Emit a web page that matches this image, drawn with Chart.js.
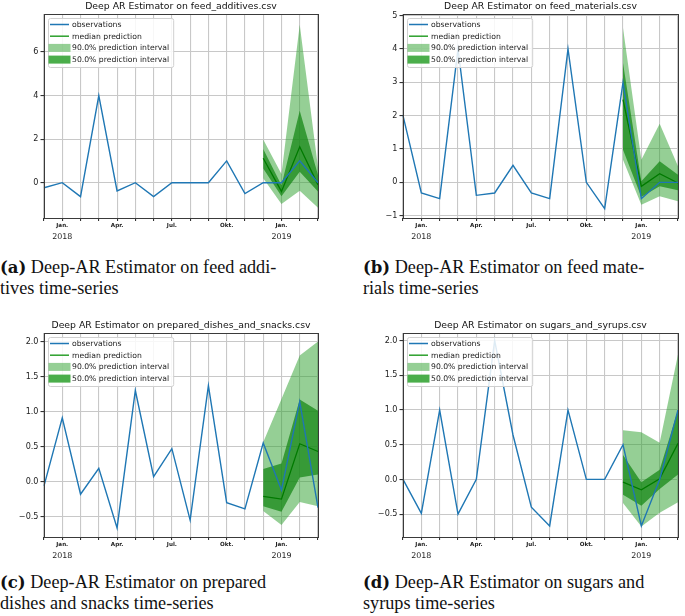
<!DOCTYPE html>
<html>
<head>
<meta charset="utf-8">
<script src="https://cdn.jsdelivr.net/npm/chart.js@4.4.1/dist/chart.umd.min.js"></script>
<style>
  body { margin: 0; background: #fff; width: 685px; height: 616px; position: relative; overflow: hidden; }
  canvas { position: absolute; }
  .cap { position: absolute; font-family: "Liberation Serif", serif; font-size: 18.2px; line-height: 21px; color: #111; white-space: nowrap; }
  .cap b { font-family: "DejaVu Serif", serif; font-size: 16.5px; }
</style>
</head>
<body>
<canvas id="chartA" width="340" height="242" style="left:0;top:0"></canvas>
<canvas id="chartB" width="345" height="242" style="left:340px;top:0"></canvas>
<canvas id="chartC" width="340" height="242" style="left:0;top:319px"></canvas>
<canvas id="chartD" width="345" height="242" style="left:340px;top:319px"></canvas>

<div class="cap" style="left:0;top:257px"><b>(a)</b> Deep-AR Estimator on feed addi-<br>tives time-series</div>
<div class="cap" style="left:363px;top:257px"><b>(b)</b> Deep-AR Estimator on feed mate-<br>rials time-series</div>
<div class="cap" style="left:0;top:572px"><b>(c)</b> Deep-AR Estimator on prepared<br>dishes and snacks time-series</div>
<div class="cap" style="left:363px;top:572px"><b>(d)</b> Deep-AR Estimator on sugars and<br>syrups time-series</div>

<script>
// Monate Dez. 2017 bis Mär. 2019 (nur Quartalsanfänge beschriftet)
const monthLabels = ["", "Jan.", "", "", "Apr.", "", "", "Jul.", "", "", "Okt.", "", "", "Jan.", "", ""];
const yearLabels = ["", "2018", "", "", "", "", "", "", "", "", "", "", "", "2019", "", ""];
const predStart = 12; // Vorhersage beginnt im Dez. 2018

// feed_additives
const additivesObs = [-0.23, 0, -0.64, 4, -0.38, 0, -0.64, 0, 0, 0, 1, -0.5, 0, 0, 1, 0];
const additivesMedian = [1.12, -0.4, 1.65, -0.1];
const additivesHigh90 = [1.98, 0.4, 7.25, 0.7];
const additivesLow90 = [0.2, -0.98, -0.37, -1.15];
const additivesHigh50 = [1.55, -0.12, 3.3, 0.35];
const additivesLow50 = [0.65, -0.62, 0.5, -0.4];
const additivesTicks = [0, 2, 4, 6];

// feed_materials
const materialsObs = [2, -0.32, -0.49, 4, -0.39, -0.32, 0.51, -0.32, -0.49, 4, 0, -0.79, 3, -0.49, 0, 0];
const materialsMedian = [2.48, -0.12, 0.26, -0.02];
const materialsHigh90 = [4.63, 0.68, 1.76, 0.48];
const materialsLow90 = [0.68, -0.67, -0.42, -0.57];
const materialsHigh50 = [3.58, 0.03, 0.63, 0.23];
const materialsLow50 = [0.98, -0.44, -0.12, -0.24];
const materialsTicks = [-1, 0, 1, 2, 3, 4, 5];

// prepared_dishes_and_snacks
const dishesObs = [-0.06, 0.91, -0.18, 0.19, -0.66, 1.3, 0.07, 0.47, -0.55, 1.37, -0.3, -0.39, 0.55, -0.12, 1.14, -0.37];
const dishesMedian = [-0.21, -0.25, 0.54, 0.43];
const dishesHigh90 = [0.56, 1.18, 1.8, 2.0];
const dishesLow90 = [-0.42, -0.62, -0.29, -0.35];
const dishesHigh50 = [0.18, 0.26, 1.17, 1.01];
const dishesLow50 = [-0.35, -0.43, 0.06, 0.1];
const dishesTicks = [-0.5, 0, 0.5, 1, 1.5, 2];

// sugars_and_syrups
const sugarsObs = [0, -0.49, 1, -0.5, 0, 2, 0.64, -0.4, -0.67, 1, 0, 0, 0.5, -0.67, 0, 1];
const sugarsMedian = [-0.04, -0.15, 0.01, 0.52];
const sugarsHigh90 = [0.71, 0.68, 0.53, 1.8];
const sugarsLow90 = [-0.34, -0.68, -0.48, -0.33];
const sugarsHigh50 = [0.35, -0.04, 0.14, 1.0];
const sugarsLow50 = [-0.22, -0.38, -0.14, 0.07];
const sugarsTicks = [-0.5, 0, 0.5, 1, 1.5, 2];

const blue = "#1f77b4";
const medianGreen = "#007a00";
const light90 = "rgba(44, 160, 44, 0.5)";
const dark50 = "rgba(20, 135, 20, 0.72)";
const gridColor = "#c8c8c8";
const baseFont = "'DejaVu Sans', sans-serif";

const pad = (pred) => Array(predStart).fill(null).concat(pred);

// Rahmen um die Zeichenfläche (wie matplotlib)
const spinePlugin = {
  id: "spines",
  afterDraw(chart) {
    const a = chart.chartArea;
    const ctx = chart.ctx;
    ctx.save();
    ctx.strokeStyle = "#3a3a3a";
    ctx.lineWidth = 1;
    ctx.strokeRect(Math.round(a.left) + 0.5, Math.round(a.top) + 0.5, Math.round(a.right - a.left), Math.round(a.bottom - a.top));
    ctx.restore();
  },
};

// Titel über der Mitte der Zeichenfläche
const titlePlugin = {
  id: "panelTitle",
  afterDraw(chart, args, opts) {
    const a = chart.chartArea;
    const ctx = chart.ctx;
    ctx.save();
    ctx.font = "9.3px " + baseFont;
    ctx.fillStyle = "#111";
    ctx.textAlign = "center";
    ctx.textBaseline = "middle";
    ctx.fillText(opts.text, (a.left + a.right) / 2, a.top - 7.5);
    ctx.restore();
  },
};

// Legende oben links in der Zeichenfläche
const legendPlugin = {
  id: "boxLegend",
  afterDatasetsDraw(chart) {
    const a = chart.chartArea;
    const ctx = chart.ctx;
    const items = [
      { text: "observations", kind: "line", color: blue },
      { text: "median prediction", kind: "line", color: "#2ca02c" },
      { text: "90.0% prediction interval", kind: "patch", color: light90 },
      { text: "50.0% prediction interval", kind: "patch", color: "rgba(44, 160, 44, 0.85)" },
    ];
    ctx.save();
    ctx.font = "7.7px " + baseFont;
    const textW = Math.max(...items.map((it) => ctx.measureText(it.text).width));
    const x0 = a.left + 4;
    const y0 = a.top + 4;
    const w = textW + 28;
    const h = 49;
    ctx.fillStyle = "rgba(255, 255, 255, 0.85)";
    ctx.strokeStyle = "#d0d0d0";
    ctx.lineWidth = 1;
    ctx.beginPath();
    ctx.roundRect(x0 + 0.5, y0 + 0.5, w, h, 2);
    ctx.fill();
    ctx.stroke();
    items.forEach((it, i) => {
      const cy = y0 + 6.5 + i * 11.7;
      if (it.kind === "line") {
        ctx.strokeStyle = it.color;
        ctx.lineWidth = 1.5;
        ctx.beginPath();
        ctx.moveTo(x0 + 2, cy);
        ctx.lineTo(x0 + 21, cy);
        ctx.stroke();
      } else {
        ctx.fillStyle = it.color;
        ctx.fillRect(x0 + 0.5, cy - 4, 22, 8);
      }
      ctx.fillStyle = "#222";
      ctx.textBaseline = "middle";
      ctx.fillText(it.text, x0 + 24, cy + 0.5);
    });
    ctx.restore();
  },
};

function makePanel(id, title, series, yMin, yMax, yTicks, decimals, leftWidth, rightPad) {
  const ctx = document.getElementById(id).getContext("2d");
  new Chart(ctx, {
    type: "line",
    data: {
      labels: monthLabels,
      datasets: [
        { label: "observations", data: series.obs, borderColor: blue, borderWidth: 1.4, order: 0, fill: false },
        { label: "median prediction", data: pad(series.median), borderColor: medianGreen, borderWidth: 1.3, order: 1, fill: false },
        { label: "90% hoch", data: pad(series.high90), borderWidth: 0, borderColor: "rgba(0,0,0,0)", backgroundColor: light90, fill: "+1", order: 3 },
        { label: "90% tief", data: pad(series.low90), borderWidth: 0, borderColor: "rgba(0,0,0,0)", fill: false, order: 3 },
        { label: "50% hoch", data: pad(series.high50), borderWidth: 0, borderColor: "rgba(0,0,0,0)", backgroundColor: dark50, fill: "+1", order: 2 },
        { label: "50% tief", data: pad(series.low50), borderWidth: 0, borderColor: "rgba(0,0,0,0)", fill: false, order: 2 },
      ],
    },
    options: {
      responsive: false,
      animation: false,
      devicePixelRatio: 1,
      events: [],
      layout: { padding: { top: 14, right: rightPad, left: 0, bottom: 0 } },
      elements: { point: { radius: 0 }, line: { tension: 0 } },
      plugins: {
        legend: { display: false },
        tooltip: { enabled: false },
        panelTitle: { text: title },
      },
      scales: {
        x: {
          type: "category",
          weight: 0,
          offset: false,
          border: { display: false },
          grid: { color: gridColor, lineWidth: 1.1, tickColor: "#333", tickLength: 3, offset: false },
          ticks: { autoSkip: false, maxRotation: 0, padding: 1, color: "#222", font: { family: baseFont, size: 5.6, weight: "bold" } },
          afterFit: (scale) => { scale.height = 11; },
        },
        x2: {
          type: "category",
          labels: yearLabels,
          position: "bottom",
          weight: 1,
          offset: false,
          border: { display: false },
          grid: { display: false, drawTicks: false },
          ticks: { autoSkip: false, maxRotation: 0, padding: 3, color: "#222", font: { family: baseFont, size: 7.9 } },
          afterFit: (scale) => { scale.height = 13; },
        },
        y: {
          min: yMin,
          max: yMax,
          border: { display: false },
          grid: { color: gridColor, lineWidth: 1.1, tickColor: "#333", tickLength: 3.5 },
          ticks: {
            padding: 2,
            color: "#222",
            font: { family: baseFont, size: 8.1 },
            callback: (v) => (v < 0 ? "\u2212" : "") + Math.abs(v).toFixed(decimals),
          },
          afterBuildTicks: (scale) => { scale.ticks = yTicks.map((v) => ({ value: v })); },
          afterFit: (scale) => { scale.width = leftWidth; },
        },
      },
    },
    plugins: [titlePlugin, legendPlugin, spinePlugin],
  });
}

makePanel("chartA", "Deep AR Estimator on feed_additives.csv",
  { obs: additivesObs, median: additivesMedian, high90: additivesHigh90, low90: additivesLow90, high50: additivesHigh50, low50: additivesLow50 },
  -1.62, 7.74, additivesTicks, 0, 44, 22);

makePanel("chartB", "Deep AR Estimator on feed_materials.csv",
  { obs: materialsObs, median: materialsMedian, high90: materialsHigh90, low90: materialsLow90, high50: materialsHigh50, low50: materialsLow50 },
  -1.07, 5.05, materialsTicks, 0, 63, 7);

makePanel("chartC", "Deep AR Estimator on prepared_dishes_and_snacks.csv",
  { obs: dishesObs, median: dishesMedian, high90: dishesHigh90, low90: dishesLow90, high50: dishesHigh50, low50: dishesLow50 },
  -0.79, 2.12, dishesTicks, 1, 44, 22);

makePanel("chartD", "Deep AR Estimator on sugars_and_syrups.csv",
  { obs: sugarsObs, median: sugarsMedian, high90: sugarsHigh90, low90: sugarsLow90, high50: sugarsHigh50, low50: sugarsLow50 },
  -0.83, 2.11, sugarsTicks, 1, 63, 7);
</script>
</body>
</html>
